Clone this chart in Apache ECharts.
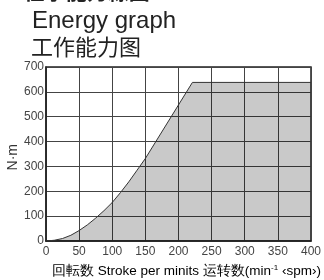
<!DOCTYPE html>
<html>
<head>
<meta charset="utf-8">
<script src="https://cdn.jsdelivr.net/npm/echarts@6/dist/echarts.min.js"></script>
<style>
  html, body { margin: 0; padding: 0; background: #fff; }
  #chart { width: 324px; height: 280px; }
</style>
</head>
<body>
<div id="chart"></div>
<script>
// stroke rate (spm) vs. energy (N·m)
var strokes = [0, 12.5, 25, 37.5, 50, 62.5, 75, 87.5, 100, 112.5, 125, 137.5, 150, 221, 400];
var energy = [0, 3, 10, 23, 42, 65, 92, 122, 155, 195, 238, 285, 332, 638, 638];
var xTicks = [0, 50, 100, 150, 200, 250, 300, 350, 400];
var yTicks = [0, 100, 200, 300, 400, 500, 600, 700];

var points = strokes.map(function (s, i) { return [s, energy[i]]; });

var chart = echarts.init(document.getElementById("chart"));

var font = "'Liberation Sans', Arial, sans-serif";

chart.setOption({
  animation: false,
  grid: { left: 46, top: 67, right: 11, bottom: 39, show: true, borderColor: "#222", borderWidth: 1.5 },
  graphic: [
    {
      type: "text", left: -2, top: -19,
      style: { text: "■ 仕事能力線図", font: "bold 21px 'Noto Sans CJK JP'", fill: "#222" }
    },
    {
      type: "text", left: 32, top: 9,
      style: { text: "Energy graph", font: "24px " + font, fill: "#222" }
    },
    {
      type: "text", left: 31, top: 36,
      style: { text: "工作能力图", font: "22px 'Noto Sans CJK SC'", fill: "#222" }
    },
    {
      type: "text", left: 52, top: 264,
      style: {
        text: "{a|回転数 Stroke per minits 运转数(min}{s|-1}{a| ‹spm›)}",
        rich: {
          a: { fontFamily: font, fontSize: 13.5, color: "#333" },
          s: { fontFamily: font, fontSize: 8, color: "#333", verticalAlign: "top" }
        }
      }
    },
    {
      type: "text", left: 6, top: 144, rotation: Math.PI / 2,
      style: { text: "N·m", font: "14px " + font, fill: "#333" }
    }
  ],
  xAxis: {
    type: "value",
    min: xTicks[0], max: xTicks[xTicks.length - 1], interval: 50,
    axisLine: { show: true, lineStyle: { color: "#222", width: 1.5 } },
    axisTick: { show: false },
    axisLabel: { color: "#444", fontSize: 12, fontFamily: font, margin: 5 },
    splitLine: { show: true, lineStyle: { color: "#444", width: 1 } }
  },
  yAxis: {
    type: "value",
    min: yTicks[0], max: yTicks[yTicks.length - 1], interval: 100,
    axisLine: { show: true, lineStyle: { color: "#222", width: 1.5 } },
    axisTick: { show: false },
    axisLabel: { color: "#444", fontSize: 12, fontFamily: font, margin: 2 },
    splitLine: { show: true, lineStyle: { color: "#444", width: 1 } }
  },
  series: [
    {
      type: "line",
      data: points,
      symbol: "none",
      lineStyle: { color: "#333", width: 1 },
      areaStyle: { color: "rgba(0,0,0,0.3)" }
    }
  ]
});
</script>
</body>
</html>
